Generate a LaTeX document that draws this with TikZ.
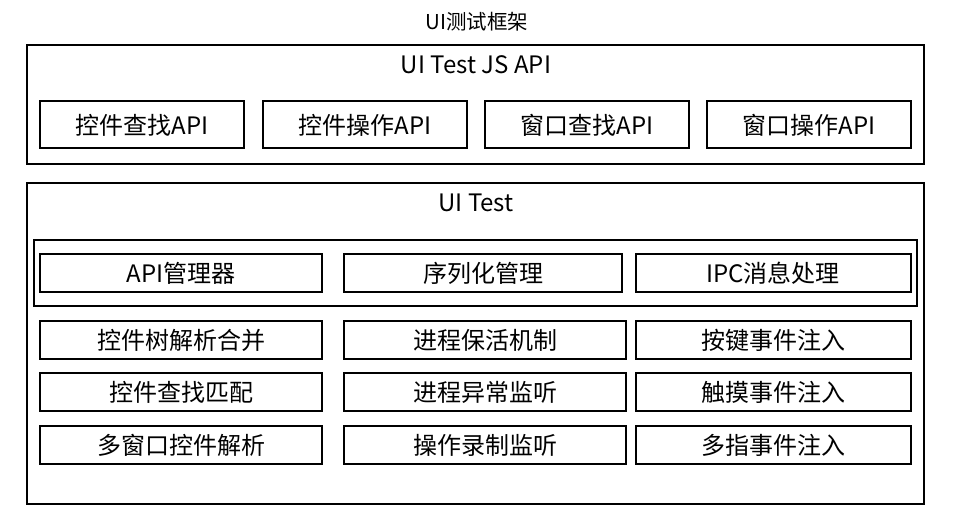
\documentclass[tikz,border=0pt]{standalone}
\usepackage{fontspec}
\setmainfont{Noto Sans CJK SC}
\begin{document}
\begin{tikzpicture}[x=1pt,y=-1pt,
  frame/.style={draw=black,line width=2.2pt},
  lbl/.style={inner sep=0pt,font=\fontsize{24}{28}\selectfont},
  ttl/.style={inner sep=0pt,font=\fontsize{20.5}{24}\selectfont}]
\useasboundingbox (0,0) rectangle (956,529);
\node[ttl] (title) at (477,22) {UI测试框架};
% top block
\draw[frame] (27,45) rectangle (924,164);
\node[lbl] (jsapi) at (476,65) {UI Test JS API};
\draw[frame] (40,101) rectangle (244,148); \node[lbl] (a1) at (142,125) {控件查找API};
\draw[frame] (263,101) rectangle (467,148); \node[lbl] (a2) at (365,125) {控件操作API};
\draw[frame] (485,101) rectangle (689,148); \node[lbl] (a3) at (587,125) {窗口查找API};
\draw[frame] (707,101) rectangle (911,148); \node[lbl] (a4) at (809,125) {窗口操作API};
% bottom block
\draw[frame] (27,183) rectangle (924,504);
\node[lbl] (uitest) at (476,203) {UI Test};
\draw[frame] (34,240) rectangle (917,306);
\draw[frame] (40,254) rectangle (322,292); \node[lbl] (b1) at (181,273) {API管理器};
\draw[frame] (344,254) rectangle (622,292); \node[lbl] (b2) at (483,273) {序列化管理};
\draw[frame] (636,254) rectangle (911,292); \node[lbl] (b3) at (773,273) {IPC消息处理};
\draw[frame] (40,321) rectangle (322,359); \node[lbl] (c1) at (181,340) {控件树解析合并};
\draw[frame] (344,321) rectangle (626,359); \node[lbl] (c2) at (485,340) {进程保活机制};
\draw[frame] (636,321) rectangle (911,359); \node[lbl] (c3) at (773,340) {按键事件注入};
\draw[frame] (40,373) rectangle (322,411); \node[lbl] (d1) at (181,392) {控件查找匹配};
\draw[frame] (344,373) rectangle (626,411); \node[lbl] (d2) at (485,392) {进程异常监听};
\draw[frame] (636,373) rectangle (911,411); \node[lbl] (d3) at (773,392) {触摸事件注入};
\draw[frame] (40,426) rectangle (322,464); \node[lbl] (e1) at (181,445) {多窗口控件解析};
\draw[frame] (344,426) rectangle (626,464); \node[lbl] (e2) at (485,445) {操作录制监听};
\draw[frame] (636,426) rectangle (911,464); \node[lbl] (e3) at (773,445) {多指事件注入};
\end{tikzpicture}
\end{document}
